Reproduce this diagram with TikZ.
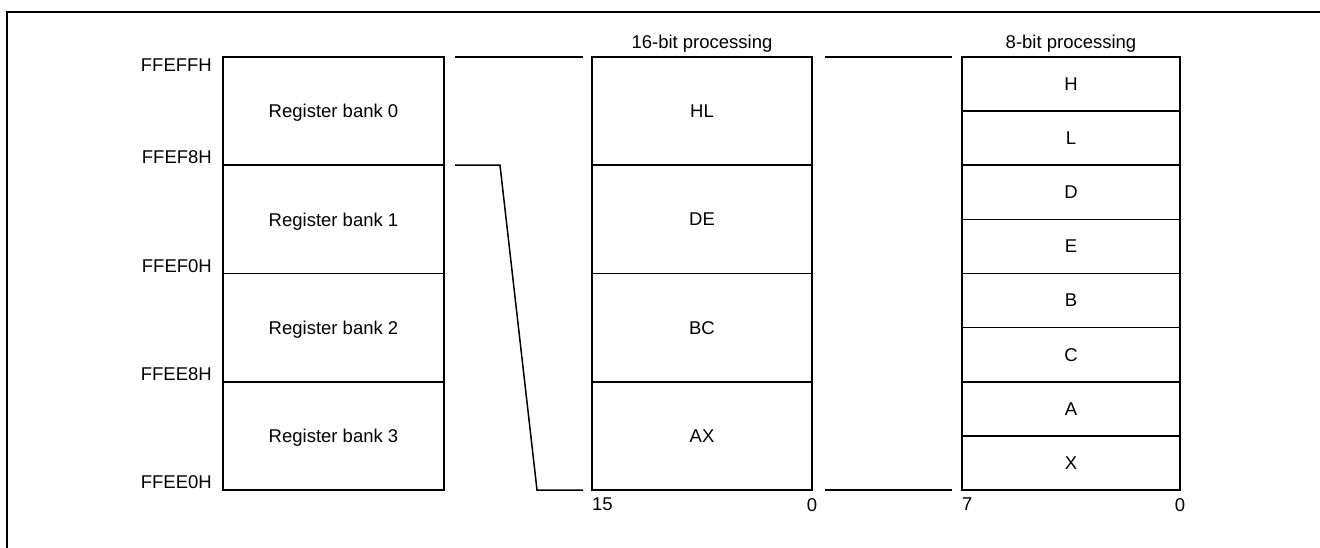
\documentclass[tikz,border=0pt]{standalone}
\usepackage{fontspec}
\setmainfont{Liberation Sans}
\usetikzlibrary{positioning}

\begin{document}
\begin{tikzpicture}
        [x=1pt, y=-1pt, node distance=0pt,
         every node/.style={font=\fontsize{18.5}{21}\selectfont},
         bankbox/.style={draw, line width=1.5pt, minimum width=221pt, minimum height=108.25pt, inner sep=0pt, outer sep=0pt, text depth=0pt},
         wordbox/.style={bankbox, minimum width=220pt},
         bytebox/.style={bankbox, minimum width=218pt, minimum height=54.125pt},
         addr/.style={inner sep=0pt, anchor=south east},
         bitno/.style={inner sep=0pt},
         link/.style={line width=1.5pt}]
        \useasboundingbox (0,0) rectangle (1320,548);
        \draw [line width=2.5pt] (7,560) -- (7,12) -- (1330,12);
        % register banks
        \node [bankbox] (bank0) at (333.5,111.125) {Register bank 0};
        \node [bankbox, below=of bank0] (bank1) {Register bank 1};
        \node [bankbox, below=of bank1] (bank2) {Register bank 2};
        \node [bankbox, below=of bank2] (bank3) {Register bank 3};
        \node [addr, anchor=north east] at ([xshift=-11pt, yshift=-2pt]bank0.north west) {FFEFFH};
        \node [addr] at ([xshift=-11pt, yshift=1pt]bank0.south west) {FFEF8H};
        \node [addr] at ([xshift=-11pt, yshift=1pt]bank1.south west) {FFEF0H};
        \node [addr] at ([xshift=-11pt, yshift=1pt]bank2.south west) {FFEE8H};
        \node [addr] at ([xshift=-11pt, yshift=1pt]bank3.south west) {FFEE0H};
        % 16-bit registers
        \node [wordbox] (hl) at (702,111.125) {HL};
        \node [wordbox, below=of hl] (de) {DE};
        \node [wordbox, below=of de] (bc) {BC};
        \node [wordbox, below=of bc] (ax) {AX};
        \node [above=4pt of hl, inner sep=0pt] (word) {16-bit processing};
        \node [bitno, anchor=north west] (msb16) at ([yshift=-8pt]ax.south west) {15};
        \node [bitno, anchor=north] (lsb16) at ([yshift=-8pt]ax.south east) {0};
        % 8-bit registers
        \node [bytebox] (h) at (1071,84.0625) {H};
        \node [bytebox, below=of h] (l) {L};
        \node [bytebox, below=of l] (d) {D};
        \node [bytebox, below=of d] (e) {E};
        \node [bytebox, below=of e] (b) {B};
        \node [bytebox, below=of b] (c) {C};
        \node [bytebox, below=of c] (a) {A};
        \node [bytebox, below=of a] (x) {X};
        \node [above=4pt of h, inner sep=0pt] (byte) {8-bit processing};
        \node [bitno, anchor=north west] (msb8) at ([yshift=-8pt]x.south west) {7};
        \node [bitno, anchor=north] (lsb8) at ([yshift=-8pt]x.south east) {0};
        % links
        \draw [link] ([xshift=11pt]bank0.north east) -- ([xshift=-9pt]hl.north west);
        \draw [link] ([xshift=11pt]bank0.south east) -- ++(45,0) -- ([xshift=-55pt]ax.south west) -- ([xshift=-9pt]ax.south west);
        \draw [link] ([xshift=13pt]hl.north east) -- ([xshift=-10pt]h.north west);
        \draw [link] ([xshift=13pt]ax.south east) -- ([xshift=-10pt]x.south west);
\end{tikzpicture}
\end{document}
